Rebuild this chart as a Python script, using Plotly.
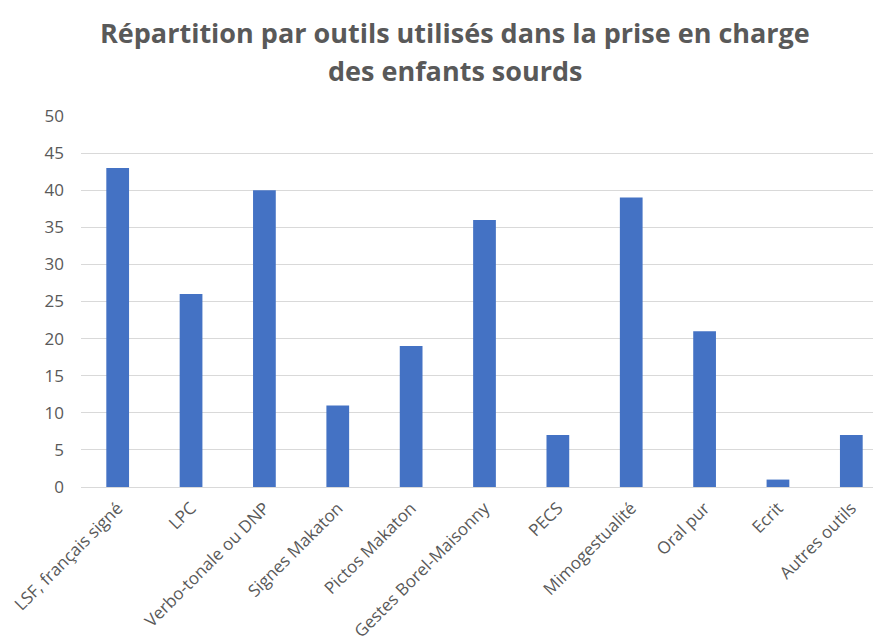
import plotly.graph_objects as go

categories = ["LSF, français signé", "LPC", "Verbo-tonale ou DNP", "Signes Makaton",
              "Pictos Makaton", "Gestes Borel-Maisonny", "PECS", "Mimogestualité",
              "Oral pur", "Ecrit", "Autres outils"]
values = [43, 26, 40, 11, 19, 36, 7, 39, 21, 1, 7]
y_ticks = [0, 5, 10, 15, 20, 25, 30, 35, 40, 45, 50]
title_lines = ["Répartition par outils utilisés dans la prise en charge", "des enfants sourds"]

fig = go.Figure(go.Bar(
    x=categories, y=values,
    marker=dict(color="#4472C4", line=dict(width=0)),
))

for text, ypos in zip(title_lines, [1.226, 1.122]):
    fig.add_annotation(
        text=f"<b>{text}</b>", xref="paper", yref="paper", x=0.4634, y=ypos,
        xanchor="center", yanchor="middle", showarrow=False,
        font=dict(family="Open Sans", size=27, color="#595959"),
    )

fig.update_layout(
    width=881, height=644,
    paper_bgcolor="white", plot_bgcolor="white",
    margin=dict(l=73, r=1, t=108, b=165, autoexpand=False),
    bargap=0.69,
    showlegend=False,
    font=dict(family="Open Sans", color="#595959"),
)
fig.update_xaxes(
    tickangle=-45, tickfont=dict(size=17, color="#595959"),
    showgrid=False, showline=False, ticks="", automargin=False,
    ticklabelstandoff=7,
)
fig.update_yaxes(
    range=[0, 50], tickvals=y_ticks, tickfont=dict(size=17, color="#595959"),
    showgrid=True, gridcolor="#D9D9D9", gridwidth=1, zeroline=True,
    zerolinecolor="#D9D9D9", zerolinewidth=1, ticks="", ticklabelstandoff=16,
    automargin=False,
)
fig.write_html("out.html")
